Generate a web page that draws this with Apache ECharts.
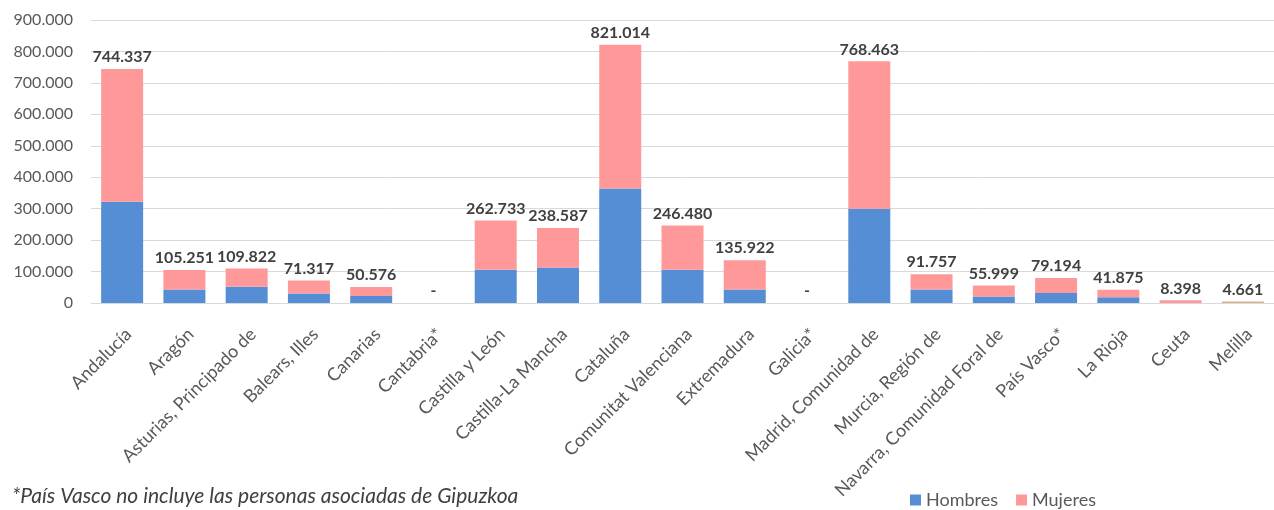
<!DOCTYPE html>
<html>
<head>
<meta charset="utf-8">
<script src="https://cdn.jsdelivr.net/npm/echarts@6/dist/echarts.min.js"></script>
<style>
  html, body { margin: 0; padding: 0; background: #fff; }
  #chart { width: 1274px; height: 510px; }
</style>
</head>
<body>
<div id="chart"></div>
<script>
// comunidades
let categories = ['Andalucía', 'Aragón', 'Asturias, Principado de', 'Balears, Illes', 'Canarias', 'Cantabria*',
  'Castilla y León', 'Castilla-La Mancha', 'Cataluña', 'Comunitat Valenciana', 'Extremadura', 'Galicia*',
  'Madrid, Comunidad de', 'Murcia, Región de', 'Navarra, Comunidad Foral de', 'País Vasco*', 'La Rioja', 'Ceuta', 'Melilla'];
// totales (etiquetas)
let totals = [744337, 105251, 109822, 71317, 50576, 0, 262733, 238587, 821014, 246480, 135922, 0,
  768463, 91757, 55999, 79194, 41875, 8398, 4661];
// estimados del gráfico
let hombres = [322000, 43200, 52000, 30500, 22000, 0, 106000, 113000, 364000, 106000, 43200, 0,
  300000, 43000, 21000, 31500, 18000, 0, 2300];
let mujeres = [422337, 62051, 57822, 40817, 28576, 0, 156733, 125587, 457014, 140480, 92722, 0,
  468463, 48757, 34999, 47694, 23875, 8398, 2361];
let yTicks = [0, 100000, 200000, 300000, 400000, 500000, 600000, 700000, 800000, 900000];

function fmt(v) {
  if (!v) return '-';
  return String(v).replace(/\B(?=(\d{3})+(?!\d))/g, '.');
}

let myChart = echarts.init(document.getElementById('chart'));
let font = 'Lato, "Liberation Sans", sans-serif';

let option = {
  animation: false,
  textStyle: { fontFamily: font },
  legend: {
    data: ['Hombres', 'Mujeres'],
    left: 905,
    top: 486,
    itemWidth: 11,
    itemHeight: 11,
    itemGap: 18,
    icon: 'rect',
    textStyle: { color: '#595959', fontSize: 18, fontFamily: font }
  },
  grid: {
    left: 91,
    right: -11,
    top: 20,
    bottom: 207,
    containLabel: false
  },
  graphic: [{
    type: 'text',
    left: 12,
    top: 486,
    style: {
      text: '*País Vasco no incluye las personas asociadas de Gipuzkoa',
      fontFamily: font,
      fontStyle: 'italic',
      fontSize: 21,
      fill: '#404040'
    }
  }],
  xAxis: {
    type: 'category',
    data: categories,
    axisTick: { show: false },
    axisLine: { show: true, lineStyle: { color: '#D9D9D9', width: 1 } },
    axisLabel: {
      interval: 0,
      rotate: 45,
      margin: 22,
      verticalAlign: 'top',
      color: '#595959',
      fontSize: 18,
      fontFamily: font
    }
  },
  yAxis: {
    type: 'value',
    min: yTicks[0],
    max: yTicks[yTicks.length - 1],
    interval: yTicks[1] - yTicks[0],
    axisLine: { show: false },
    axisTick: { show: false },
    axisLabel: {
      margin: 18,
      color: '#595959',
      fontSize: 16,
      fontFamily: font,
      formatter: function (v) { return v === 0 ? '0' : fmt(v); }
    },
    splitLine: { show: true, lineStyle: { color: '#D9D9D9', width: 1 } }
  },
  series: [{
    name: 'Hombres',
    type: 'bar',
    stack: 'total',
    barWidth: 42,
    itemStyle: { color: '#558ED5' },
    data: hombres.map(function (v, i) {
      // Melilla aparece en verde en el original
      return i === 18 ? { value: v, itemStyle: { color: '#9BBB59' } } : v;
    })
  }, {
    name: 'Mujeres',
    type: 'bar',
    stack: 'total',
    barWidth: 42,
    itemStyle: { color: '#FF9999' },
    label: {
      show: true,
      position: 'top',
      distance: 4,
      color: '#404040',
      fontWeight: 'bold',
      fontSize: 16,
      fontFamily: font,
      formatter: function (p) { return fmt(totals[p.dataIndex]); }
    },
    data: mujeres
  }]
};

myChart.setOption(option);
window.addEventListener('resize', function () {
  myChart.resize();
});
</script>
</body>
</html>
